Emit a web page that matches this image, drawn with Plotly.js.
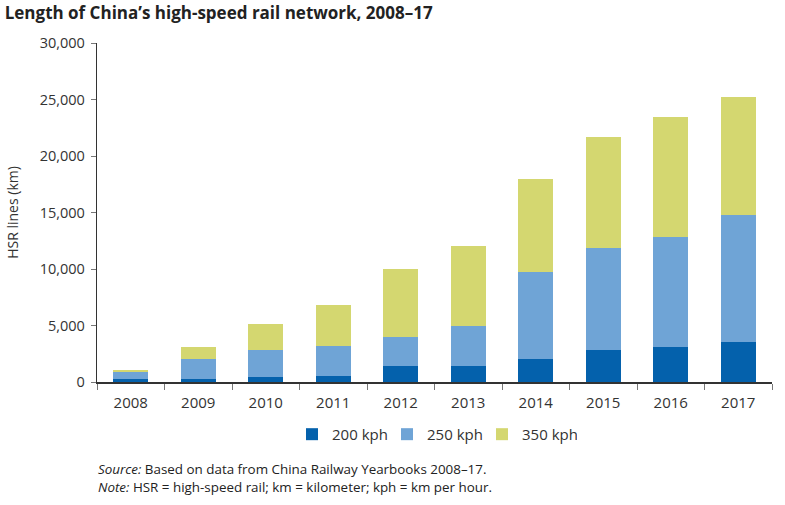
<!DOCTYPE html>
<html><head><meta charset="utf-8">
<script src="https://cdn.plot.ly/plotly-3.0.1.min.js"></script>
<style>html,body{margin:0;padding:0;background:#fff}#chart{width:785px;height:505px}</style>
</head><body><div id="chart"></div>
<script>
const years = ['2008','2009','2010','2011','2012','2013','2014','2015','2016','2017'];
const kph200 = [290, 290, 470, 560, 1440, 1440, 2060, 2860, 3120, 3560];
const kph250 = [620, 1710, 2385, 2650, 2560, 3540, 7690, 9020, 9720, 11230];
const kph350 = [180, 1120, 2295, 3620, 6010, 7070, 8220, 9800, 10610, 10430];
const seriesNames = ['200 kph', '250 kph', '350 kph'];
const colors = ['#0461AC', '#6FA4D6', '#D4D770'];

const vals = [kph200, kph250, kph350];
const traces = vals.map((v, i) => ({
  type: 'bar', x: years, y: v, name: seriesNames[i],
  marker: {color: colors[i], line: {width: 0}},
  hoverinfo: 'x+y+name'
}));

const font = 'Open Sans, Noto Sans, sans-serif';
const layout = {
  width: 785, height: 505,
  barmode: 'stack', bargap: 0.48,
  margin: {l: 97, r: 13, t: 43, b: 123},
  paper_bgcolor: '#fff', plot_bgcolor: '#fff',
  font: {family: font, size: 14, color: '#333'},
  showlegend: true,
  legend: {orientation: 'h', x: 0.5, xanchor: 'center', y: -0.106, yanchor: 'top',
           font: {size: 15, color: '#333'}, traceorder: 'normal',
           entrywidth: 50, entrywidthmode: 'pixels'},
  title: {text: '<b>Length of China’s high-speed rail network, 2008–17</b>',
          x: 0.006, xanchor: 'left', y: 0.985, yanchor: 'top',
          font: {family: font, size: 17, color: '#222'}},
  xaxis: {type: 'category', showgrid: false, showline: true, linecolor: '#333', linewidth: 1.5,
          ticks: 'outside', tickson: 'boundaries', ticklen: 6, tickcolor: '#777',
          ticklabelstandoff: 6,
          tickfont: {size: 15, color: '#333'}, range: [-0.5, 9.5]},
  yaxis: {range: [0, 30000], dtick: 5000, showgrid: false, zeroline: false,
          showline: true, linecolor: '#333', linewidth: 1.2,
          ticks: 'outside', ticklen: 5, tickcolor: '#777', tickformat: ',d',
          ticklabelstandoff: 3,
          tickfont: {size: 14.5, color: '#333'},
          title: {text: 'HSR lines (km)', font: {size: 14, color: '#333'}, standoff: 17}},
  annotations: [
    {text: '<i>Source:</i> Based on data from China Railway Yearbooks 2008–17.',
     xref: 'paper', yref: 'paper', x: -0.002, y: -0.257, xanchor: 'left', yanchor: 'middle',
     showarrow: false, font: {size: 13.4, color: '#222'}},
    {text: '<i>Note:</i> HSR = high-speed rail; km = kilometer; kph = km per hour.',
     xref: 'paper', yref: 'paper', x: -0.002, y: -0.31, xanchor: 'left', yanchor: 'middle',
     showarrow: false, font: {size: 13.4, color: '#222'}}
  ]
};
Plotly.newPlot('chart', traces, layout, {displayModeBar: false, staticPlot: true});
</script></body></html>
